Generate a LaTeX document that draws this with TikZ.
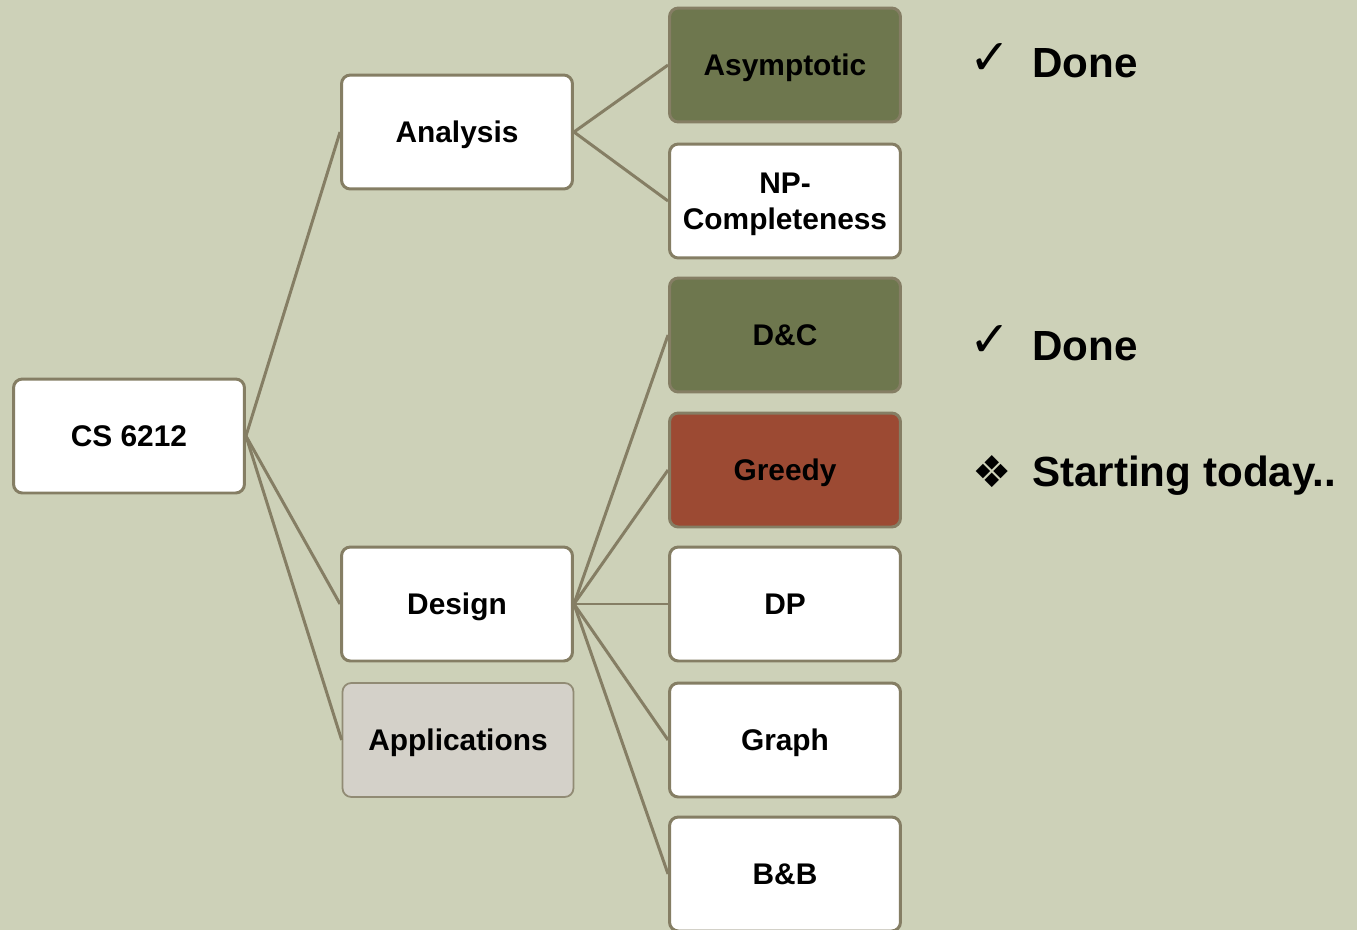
\documentclass[tikz,border=0pt]{standalone}
\usepackage{fontspec}
\setmainfont{Liberation Sans}
\newfontfamily\symfont{DejaVu Sans}
\definecolor{sage}{HTML}{CDD1B8}
\definecolor{edgegrey}{HTML}{857E64}
\definecolor{olive}{HTML}{6E774E}
\definecolor{rust}{HTML}{9C4A33}
\definecolor{pale}{HTML}{D4D1C9}
\begin{document}
\begin{tikzpicture}[x=0.02cm, y=-0.02cm,
    topic/.style={draw=edgegrey, line width=1.7pt, rounded corners=5pt, fill=white,
        minimum width=4.62cm, minimum height=2.28cm, inner sep=2pt, align=center,
        text height=12.2pt, text depth=0pt,
        font=\bfseries\fontsize{17}{20.5}\selectfont},
    link/.style={draw=edgegrey, line width=1.7pt},
    mark/.style={font=\symfont\fontsize{#1}{#1}\selectfont},
    note/.style={anchor=base west, font=\bfseries\fontsize{24}{28}\selectfont}]

    % page
    \clip (0,0) rectangle (1357,930);
    \fill[sage] (0,0) rectangle (1357,930);

    % root and first level
    \node[topic] (cs) at (129,436) {CS 6212};
    \node[topic] (analysis) at (457,132) {Analysis};
    \node[topic] (design) at (457,604) {Design};
    \node[topic, fill=pale, line width=1pt, draw=edgegrey!90] (apps) at (458,740) {Applications};

    % second level
    \node[topic, fill=olive] (asym) at (785,65) {Asymptotic};
    \node[topic, text height=32.7pt] (np) at (785,201) {NP-\\Completeness};
    \node[topic, fill=olive] (dc) at (785,335) {D\&C};
    \node[topic, fill=rust] (greedy) at (785,470) {Greedy};
    \node[topic] (dp) at (785,604) {DP};
    \node[topic] (graph) at (785,740) {Graph};
    \node[topic] (bb) at (785,874) {B\&B};

    % connectors
    \foreach \n in {analysis,design,apps}
        \draw[link] (cs.east) -- (\n.west);
    \foreach \n in {asym,np}
        \draw[link] (analysis.east) -- (\n.west);
    \foreach \n in {dc,greedy,dp,graph,bb}
        \draw[link] (design.east) -- (\n.west);

    % status notes
    \node[mark=28] (tick1) at (990,59) {✓};
    \node[note] (done1) at (1026,77) {Done};
    \node[mark=28] (tick2) at (990,341) {✓};
    \node[note] (done2) at (1026,360) {Done};
    \node[mark=25] (star) at (992,472) {❖};
    \node[note] (today) at (1026,486) {Starting today..};
\end{tikzpicture}
\end{document}
